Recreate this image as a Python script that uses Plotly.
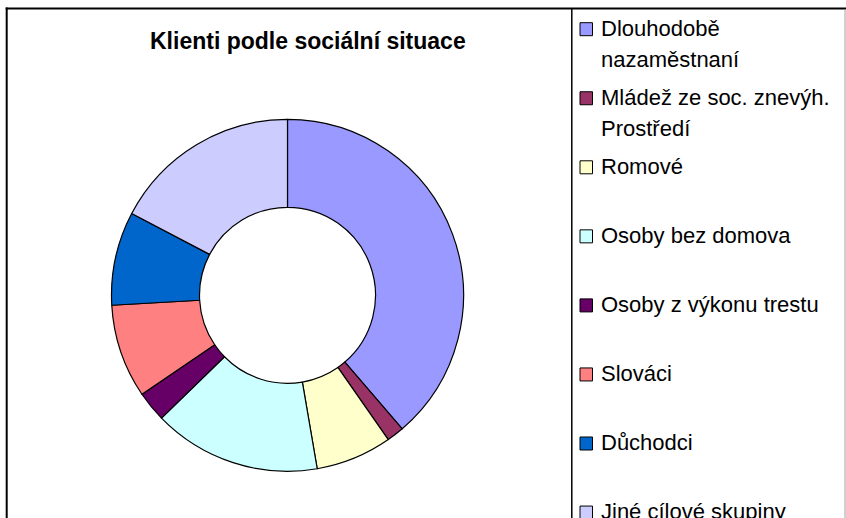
import plotly.graph_objects as go

# ---- data ----
categories = [
    "Dlouhodobě nazaměstnaní",
    "Mládež ze soc. znevýh. Prostředí",
    "Romové",
    "Osoby bez domova",
    "Osoby z výkonu trestu",
    "Slováci",
    "Důchodci",
    "Jiné cílové skupiny",
]
legend_lines = [
    ["Dlouhodobě", "nazaměstnaní"],
    ["Mládež ze soc. znevýh.", "Prostředí"],
    ["Romové"],
    ["Osoby bez domova"],
    ["Osoby z výkonu trestu"],
    ["Slováci"],
    ["Důchodci"],
    ["Jiné cílové skupiny"],
]
values = [38.7, 1.6, 7.0, 15.4, 2.8, 8.6, 8.6, 17.3]
colors = ["#9999FF", "#993366", "#FFFFCC", "#CCFFFF",
          "#660066", "#FF8080", "#0066CC", "#CCCCFF"]
title_text = "Klienti podle sociální situace"

W, H = 846, 518
FONT = "Arial, Liberation Sans, sans-serif"


def X(px):
    return px / W


def Y(py):
    return 1 - py / H


# pie geometry (pixels)
cx, cy, r = 287.5, 295.3, 176

fig = go.Figure()
fig.add_trace(go.Pie(
    labels=categories,
    values=values,
    hole=0.5,
    sort=False,
    direction="clockwise",
    rotation=0,
    textinfo="none",
    marker=dict(colors=colors, line=dict(color="#000000", width=1.2)),
    domain=dict(x=[X(cx - r), X(cx + r)], y=[Y(cy + r), Y(cy - r)]),
    showlegend=False,
))

shapes = []
annotations = []

# chart border
shapes.append(dict(type="line", xref="paper", yref="paper",
                   x0=X(6.7), x1=X(6.7), y0=Y(7.5), y1=Y(530),
                   line=dict(color="#000000", width=2)))
shapes.append(dict(type="line", xref="paper", yref="paper",
                   x0=X(5.7), x1=X(846), y0=Y(8.4), y1=Y(8.4),
                   line=dict(color="#000000", width=2)))
shapes.append(dict(type="line", xref="paper", yref="paper",
                   x0=X(845), x1=X(845), y0=Y(9.5), y1=Y(530),
                   line=dict(color="#A0A0A0", width=1)))
# legend box left edge
shapes.append(dict(type="line", xref="paper", yref="paper",
                   x0=X(571.8), x1=X(571.8), y0=Y(9), y1=Y(530),
                   line=dict(color="#000000", width=1.5)))

# legend entries
step = 69.05
for i, (lines, col) in enumerate(zip(legend_lines, colors)):
    top = 22.7 + step * i
    shapes.append(dict(type="rect", xref="paper", yref="paper",
                       x0=X(580), x1=X(592.5), y0=Y(top), y1=Y(top + 13),
                       fillcolor=col, line=dict(color="#000000", width=1)))
    for j, ln in enumerate(lines):
        baseline = top + 13.5 + 31 * j
        annotations.append(dict(
            text=ln, xref="paper", yref="paper",
            x=X(599), y=Y(baseline - 8.2),
            xanchor="left", yanchor="middle", showarrow=False,
            font=dict(family=FONT, size=22, color="#000000"),
        ))

# title
annotations.append(dict(
    text="<b>" + title_text + "</b>", xref="paper", yref="paper",
    x=X(307.5), y=Y(41.4), xanchor="center", yanchor="middle",
    showarrow=False, font=dict(family=FONT, size=23, color="#000000"),
))

fig.update_layout(
    width=W, height=H,
    margin=dict(l=0, r=0, t=0, b=0),
    paper_bgcolor="#FFFFFF",
    plot_bgcolor="#FFFFFF",
    shapes=shapes,
    annotations=annotations,
    font=dict(family=FONT),
)

fig.write_html(
    "out.html",
    config={"displayModeBar": False},
    post_script="document.body.style.margin='0';document.body.style.overflow='hidden';",
)
